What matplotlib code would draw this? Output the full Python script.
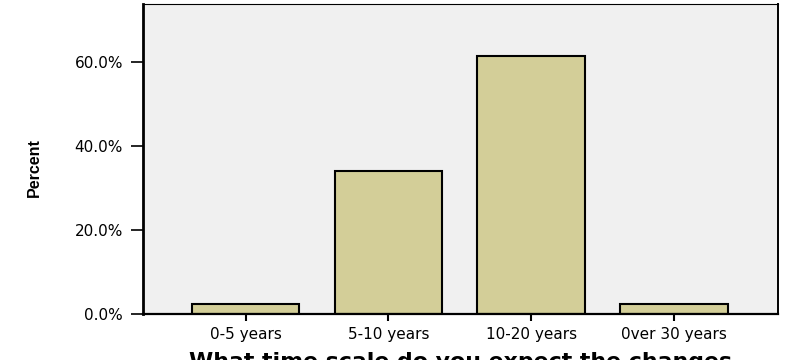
import matplotlib
matplotlib.use("Agg")
import matplotlib.pyplot as plt
from matplotlib.ticker import FuncFormatter, MultipleLocator

categories = ["0-5 years", "5-10 years", "10-20 years", "0ver 30 years"]
percent = [2.27, 34.09, 61.36, 2.27]

fig = plt.figure(figsize=(7.86, 3.6), dpi=100)
ax = fig.add_axes([0.1815, 0.1286, 0.8079, 0.8594])
ax.set_facecolor("#f0f0f0")

x = list(range(len(categories)))
ax.bar(x, percent, width=0.753, color="#d3ce98", edgecolor="black", linewidth=1.5, zorder=2)

ax.set_xlim(-0.72, 3.725)
ax.set_ylim(0, 73.7)
ax.yaxis.set_major_locator(MultipleLocator(20))
ax.yaxis.set_major_formatter(FuncFormatter(lambda v, p: f"{v:.1f}%"))
ax.set_xticks(x)
ax.set_xticklabels(categories)

ax.tick_params(axis="y", direction="out", length=8.6, width=1.2, pad=5.5, labelsize=11, colors="black")
ax.tick_params(axis="x", direction="out", length=5, width=1.5, pad=4.5, labelsize=11, colors="black")

for side, lw in {"left": 2.0, "bottom": 1.6, "top": 0.8, "right": 1.4}.items():
    ax.spines[side].set_color("black")
    ax.spines[side].set_linewidth(lw)

ax.set_ylabel("Percent", family=["Liberation Sans", "DejaVu Sans"], fontweight="bold", fontsize=11.5)
ax.yaxis.set_label_coords(-0.158, 0.471)
ax.set_xlabel("What time scale do you expect the changes", fontweight="bold", fontsize=15.8, labelpad=7)

fig.savefig("out.png", dpi=100, facecolor="white")
